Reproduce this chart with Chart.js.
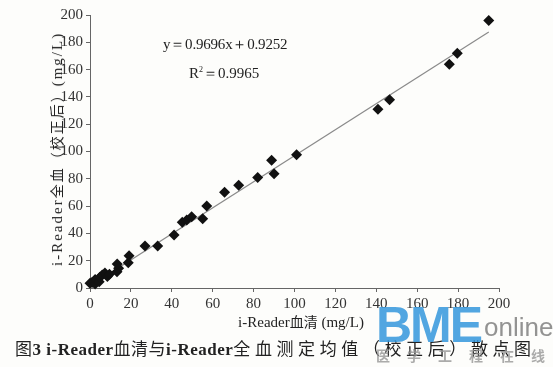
<!DOCTYPE html>
<html>
<head>
<meta charset="utf-8">
<script src="https://cdn.jsdelivr.net/npm/chart.js@4.4.1/dist/chart.umd.min.js"></script>
<style>
    html, body { margin: 0; padding: 0; background: #fdfdfb; }
    #wrap {
        position: relative; width: 553px; height: 367px; overflow: hidden;
        font-family: "Liberation Serif", "DejaVu Serif", serif; color: #222;
    }
    #chart { position: absolute; left: 0; top: 0; }
    .t { position: absolute; white-space: nowrap; line-height: 1; }
    .cjk { font-family: "Noto Sans CJK SC", sans-serif; }
</style>
</head>
<body>
<div id="wrap">
    <canvas id="chart" width="553" height="367"></canvas>

    <div class="t" id="eq" style="left:163px;top:37px;font-size:15px;letter-spacing:-0.2px;">y＝0.9696x＋0.9252</div>
    <div class="t" id="r2" style="left:189px;top:66px;font-size:15px;">R<sup style="font-size:8px">2</sup>＝0.9965</div>

    <div class="t" id="ytitle" style="left:57px;top:149px;font-size:15px;transform:translate(-50%,-50%) rotate(-90deg);letter-spacing:2px;">
        i-Reader<span class="cjk" style="font-size:14px">全血（校正后）</span>(mg/L)
    </div>
    <div class="t" id="xtitle" style="left:301px;top:314px;font-size:15px;transform:translateX(-50%);">
        i-Reader<span class="cjk" style="font-size:14px">血清</span> (mg/L)
    </div>

    <div class="t" id="caption" style="left:15px;top:339px;font-size:17px;letter-spacing:0.5px;">
        <span class="cjk">图</span><b>3 i-Reader</b><span class="cjk">血清与</span><b>i-Reader</b><span class="cjk" style="letter-spacing:4.6px;">全血测定均值（校正后）散点图</span>
    </div>

    <!-- watermark -->
    <div class="t" style="left:376px;top:300px;font-family:'Liberation Sans',sans-serif;font-weight:bold;font-size:50px;color:rgba(52,150,220,0.85);letter-spacing:-2px;">BME</div>
    <div class="t" style="left:484px;top:314px;font-family:'Liberation Sans',sans-serif;font-size:26px;color:rgba(120,120,120,0.8);">online</div>
    <div class="t cjk" style="left:376px;top:348px;font-size:14px;font-weight:bold;color:rgba(150,150,150,0.8);letter-spacing:17px;">医学工程在线</div>
</div>

<script>
// i-Reader serum (x) vs i-Reader whole blood, corrected (y), mg/L
const serumX = [
    0.0, 1.0, 2.5, 2.5, 4.5, 4.8, 6.0, 7.3, 8.5, 9.5,
    13.2, 14.0, 13.3, 18.7, 19.1, 26.9, 33.1, 41.1, 45.1, 47.3,
    49.7, 55.1, 57.1, 65.8, 72.7, 82.0, 88.8, 90.0, 101.0, 140.8,
    146.5, 175.7, 179.6, 195.0,
];
const wholeBloodY = [
    3.4, 4.0, 3.0, 6.2, 4.6, 7.8, 9.5, 11.0, 8.5, 10.0,
    11.9, 14.5, 17.6, 18.5, 23.7, 30.8, 30.8, 38.8, 48.1, 49.8,
    52.2, 50.8, 60.1, 70.1, 75.2, 81.0, 93.5, 83.7, 97.7, 130.9,
    138.0, 163.9, 172.0, 196.0,
];

// regression line end points as drawn
const fitX = [0, 195];
const fitY = [1.5, 187.5];

const AXIS_MIN = 0;
const AXIS_MAX = 200;
const AXIS_STEP = 20;

const TICK_FONT = {family: '"Liberation Serif", "DejaVu Serif", serif', size: 15};

function axis(extra) {
    return Object.assign({
        type: 'linear',
        min: AXIS_MIN,
        max: AXIS_MAX,
        ticks: {stepSize: AXIS_STEP, font: TICK_FONT, color: '#333', padding: 3},
        grid: {drawOnChartArea: false, drawTicks: true, tickLength: 4, color: '#666'},
        border: {color: '#666', width: 1},
    }, extra);
}

new Chart(document.getElementById('chart'), {
    type: 'scatter',
    data: {
        datasets: [
            {
                data: serumX.map((x, i) => ({x, y: wholeBloodY[i]})),
                pointStyle: 'rectRot',
                pointRadius: 5.5,
                backgroundColor: '#111',
                borderWidth: 0,
                clip: false,
                order: 1,
            },
            {
                type: 'line',
                data: fitX.map((x, i) => ({x, y: fitY[i]})),
                borderColor: '#8a8a8a',
                borderWidth: 1.2,
                pointRadius: 0,
                order: 2,
            },
        ],
    },
    options: {
        responsive: false,
        animation: false,
        layout: {padding: {left: 0, right: 54, top: 15, bottom: 40}},
        plugins: {legend: {display: false}, tooltip: {enabled: false}},
        scales: {
            x: axis({afterFit: s => { s.height = 39; }}),
            y: axis({afterFit: s => { s.width = 90; }}),
        },
    },
});
</script>
</body>
</html>
